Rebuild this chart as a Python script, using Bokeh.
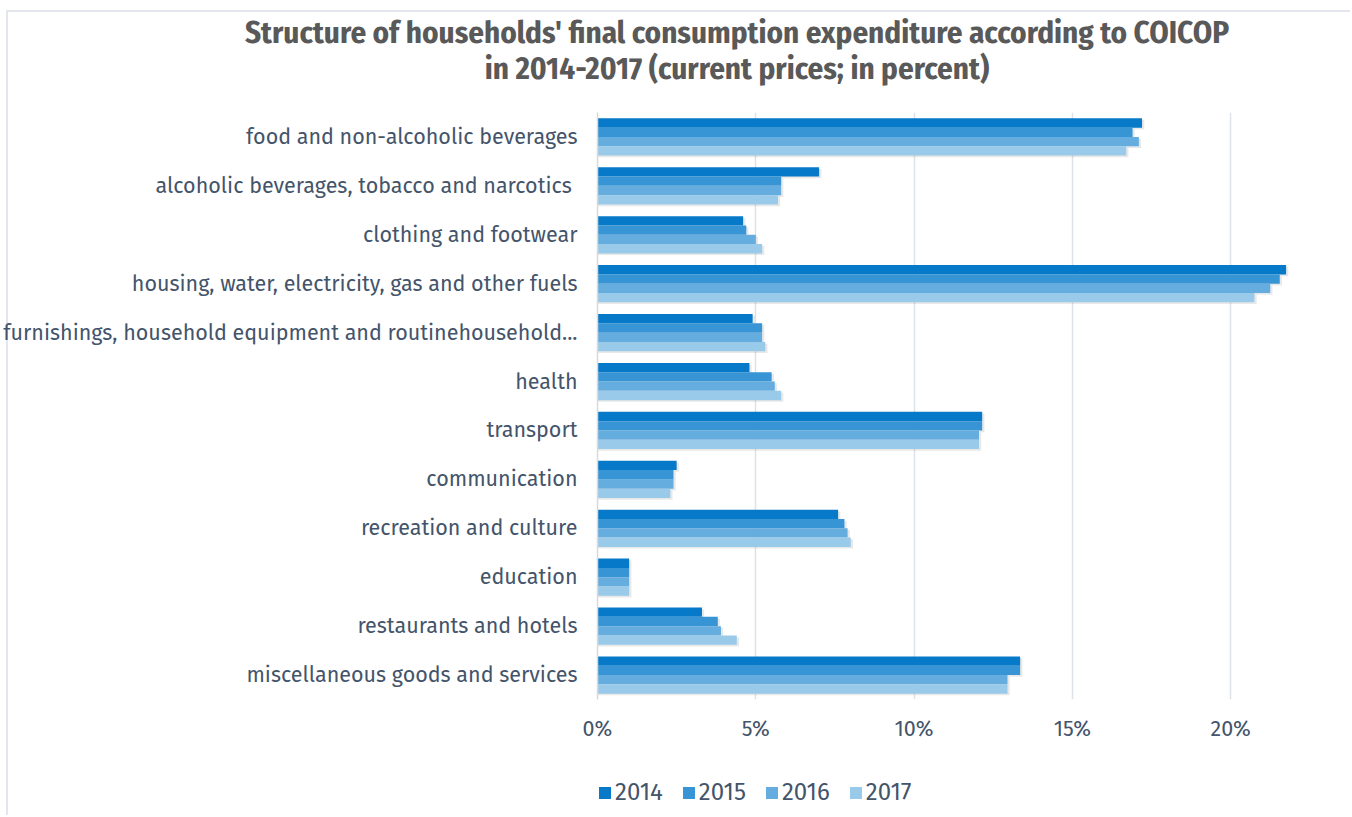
from bokeh.plotting import figure
from bokeh.layouts import column
from bokeh.models import (ColumnDataSource, FactorRange, Range1d, Legend, Div,
                          LegendItem, FixedTicker, PrintfTickFormatter)
from bokeh.transform import dodge
from bokeh.embed import file_html
from bokeh.resources import INLINE

categories = [
    "food and non-alcoholic beverages",
    "alcoholic beverages, tobacco and narcotics ",
    "clothing and footwear",
    "housing, water, electricity, gas and other fuels",
    "furnishings, household equipment and routinehousehold...",
    "health",
    "transport",
    "communication",
    "recreation and culture",
    "education",
    "restaurants and hotels",
    "miscellaneous goods and services",
]
years = ["2014", "2015", "2016", "2017"]
v2014 = [17.2, 7.0, 4.6, 21.75, 4.9, 4.8, 12.15, 2.5, 7.6, 1.0, 3.3, 13.35]
v2015 = [16.9, 5.8, 4.7, 21.55, 5.2, 5.5, 12.15, 2.4, 7.8, 1.0, 3.8, 13.35]
v2016 = [17.1, 5.8, 5.0, 21.25, 5.2, 5.6, 12.05, 2.4, 7.9, 1.0, 3.9, 12.95]
v2017 = [16.7, 5.7, 5.2, 20.75, 5.3, 5.8, 12.05, 2.3, 8.0, 1.0, 4.4, 12.95]
x_ticks = [0, 5, 10, 15, 20]
title_lines = ["Structure of households' final consumption expenditure according to COICOP",
               "in 2014-2017 (current prices; in percent)"]

colors = ["#0679C9", "#3795D5", "#65ADDE", "#9ACAEA"]
TXT = "#44546A"
FONT = "Fira Sans"
FS = "21.5px"
FRAME = "#E3E6EC"
LEFT_LINE = {"background": "linear-gradient(to right, #ffffff 6px, %s 6px, %s 8px, #ffffff 8px)" % (FRAME, FRAME)}

# ---- title ----
title_html = (
    '<div style="position:absolute;left:6px;top:10px;width:1344px;height:85px;'
    'border-top:2px solid %s;border-left:2px solid %s;"></div>' % (FRAME, FRAME)
    + '<div style="position:relative;width:1226px;margin-left:124px;padding-top:15px;text-align:center;'
    "font-family:'Fira Sans Condensed','Fira Sans',sans-serif;font-weight:bold;"
    'font-size:31px;line-height:36px;color:#595959;white-space:nowrap;">'
    + title_lines[0] + "<br>" + title_lines[1] + "</div>"
)
title_div = Div(text=title_html, width=1350, height=95, margin=(0, 0, 0, 0))

# ---- main chart ----
data = dict(cat=categories, y2014=v2014, y2015=v2015, y2016=v2016, y2017=v2017)
for yr, vals in zip(years, [v2014, v2015, v2016, v2017]):
    data["s" + yr] = [v + 0.07 for v in vals]
source = ColumnDataSource(data=data)

p = figure(width=1350, height=670, output_backend="svg", toolbar_location=None,
           y_range=FactorRange(factors=categories[::-1], range_padding=0),
           x_range=Range1d(0, 22.3), styles=LEFT_LINE)
p.min_border_left = 596
p.min_border_right = 47
p.min_border_top = 17
p.min_border_bottom = 66
p.outline_line_color = None
p.background_fill_color = "white"
p.border_fill_color = None

offsets = [0.285, 0.095, -0.095, -0.285]
for yr, off in zip(years, offsets):
    p.hbar(y=dodge("cat", off - 0.035, range=p.y_range), right="s" + yr, left=0,
           height=0.19, source=source, fill_color="#6F6F6F", fill_alpha=0.16,
           line_color=None)
for yr, col, off in zip(years, colors, offsets):
    p.hbar(y=dodge("cat", off, range=p.y_range), right="y" + yr, left=0,
           height=0.19, source=source, fill_color=col, line_color=None)

p.xgrid.grid_line_color = "#DDE1E8"
p.xgrid.grid_line_width = 1.5
p.ygrid.grid_line_color = None
p.xaxis.ticker = FixedTicker(ticks=x_ticks)
p.xaxis.formatter = PrintfTickFormatter(format="%d%%")
p.xaxis.axis_line_color = None
p.xaxis.major_tick_line_color = None
p.xaxis.minor_tick_line_color = None
p.xaxis.major_tick_out = 0
p.xaxis.major_tick_in = 0
p.xaxis.major_label_text_font = FONT
p.xaxis.major_label_text_font_size = FS
p.xaxis.major_label_text_color = TXT
p.xaxis.major_label_standoff = 16

p.yaxis.axis_line_color = "#D9D9D9"
p.yaxis.axis_line_width = 1.5
p.yaxis.major_tick_line_color = None
p.yaxis.minor_tick_line_color = None
p.yaxis.major_tick_out = 0
p.yaxis.major_tick_in = 0
p.yaxis.major_label_text_font = FONT
p.yaxis.major_label_text_font_size = FS
p.yaxis.major_label_text_color = TXT
p.yaxis.major_label_standoff = 20

# ---- legend strip ----
lsrc = ColumnDataSource(data=dict(y=[0.5], left=[0], right=[0]))
lg = figure(width=1350, height=50, output_backend="svg", toolbar_location=None,
            x_range=Range1d(0, 1), y_range=Range1d(0, 1), styles=LEFT_LINE)
lg.min_border_left = 0
lg.min_border_right = 0
lg.min_border_top = 0
lg.min_border_bottom = 0
lg.axis.visible = False
lg.grid.visible = False
lg.outline_line_color = None
lg.border_fill_color = None
lg.background_fill_color = None
lrs = [lg.hbar(y="y", left="left", right="right", height=0.1, source=lsrc,
               fill_color=c, line_color=None) for c in colors]
legend = Legend(items=[LegendItem(label=yr, renderers=[r]) for yr, r in zip(years, lrs)],
                orientation="horizontal", location=(0, 9),
                label_text_font=FONT, label_text_font_size="24px", label_text_color=TXT,
                glyph_width=15, glyph_height=15, label_standoff=3, spacing=18,
                padding=0, margin=0, border_line_color=None, background_fill_alpha=0)
lg.add_layout(legend)

layout = column(title_div, p, lg, spacing=0)
open("out.html", "w").write(file_html(layout, INLINE))
